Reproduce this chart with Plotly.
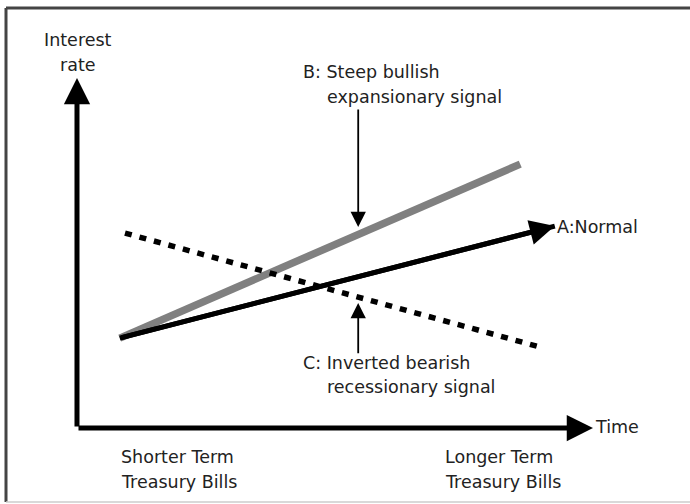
import plotly.graph_objects as go

# ---- data (schematic units: time 0-100, rate 0-100) ----
time_a = [8.3, 92.6]   # A: Normal
rate_a = [25.7, 57.7]
time_b = [8.3, 85.9]   # B: Steep
rate_b = [25.7, 75.4]
time_c = [9.3, 90.3]   # C: Inverted
rate_c = [55.7, 22.9]

axis_end_time = 100
axis_end_rate = 100

pointer_b = {"x": 54.5, "tail": 91.4, "tip": 57.4}
pointer_c = {"x": 54.5, "tail": 20.9, "tip": 35.7}

labels = [
    # text, x, y, xanchor
    ("Interest", 0.2, 110.9, "center"),
    ("rate", 0.2, 103.7, "center"),
    ("B: Steep bullish", 43.4, 101.7, "left"),
    ("expansionary signal", 48.0, 94.6, "left"),
    ("C: Inverted bearish", 43.4, 18.6, "left"),
    ("recessionary signal", 48.0, 11.7, "left"),
    ("A:Normal", 92.7, 57.4, "left"),
    ("Time", 100.0, 0.3, "left"),
    ("Shorter Term", 8.1, -8.3, "left"),
    ("Treasury Bills", 8.1, -15.4, "left"),
    ("Longer Term", 70.9, -8.3, "left"),
    ("Treasury Bills", 70.9, -15.4, "left"),
]

x_range = [-14.92, 118.8]
y_range = [-21.71, 122.29]

FONT = dict(family="DejaVu Sans", size=17.5, color="#222222")

fig = go.Figure()

fig.add_trace(go.Scatter(x=time_b, y=rate_b, mode="lines",
                         line=dict(color="#808080", width=7.5), hoverinfo="skip"))
fig.add_trace(go.Scatter(x=time_c, y=rate_c, mode="lines",
                         line=dict(color="black", width=5.5, dash="7px,8px"), hoverinfo="skip"))
fig.add_trace(go.Scatter(x=time_a, y=rate_a, mode="lines",
                         line=dict(color="black", width=5), hoverinfo="skip"))

annotations = []

def arrow(x, y, ax, ay, width, size, head=2):
    annotations.append(dict(x=x, y=y, ax=ax, ay=ay, xref="x", yref="y",
                            axref="x", ayref="y", text="", showarrow=True,
                            arrowhead=head, arrowsize=size, arrowwidth=width,
                            arrowcolor="black", standoff=0, startstandoff=0))

# axes
arrow(0, axis_end_rate, 0, 0, 5, 1.05)
arrow(axis_end_time, 0, 0, 0, 5, 1.05)
# A arrowhead
arrow(time_a[1], rate_a[1], time_a[0], rate_a[0], 5, 1.0)
# pointers
arrow(pointer_b["x"], pointer_b["tip"], pointer_b["x"], pointer_b["tail"], 1.8, 1.7)
arrow(pointer_c["x"], pointer_c["tip"], pointer_c["x"], pointer_c["tail"], 1.8, 1.7)

for text, x, y, xa in labels:
    annotations.append(dict(x=x, y=y, xref="x", yref="y", text=text,
                            showarrow=False, xanchor=xa, yanchor="middle",
                            font=FONT))

shapes = [
    dict(type="line", xref="paper", yref="paper", x0=6/690, x1=1, y0=1-8/504, y1=1-8/504,
         line=dict(color="#444444", width=3)),
    dict(type="line", xref="paper", yref="paper", x0=6/690, x1=6/690, y0=1-8/504, y1=1-502/504,
         line=dict(color="#444444", width=3)),
    dict(type="line", xref="paper", yref="paper", x0=6/690, x1=1, y0=1-502/504, y1=1-502/504,
         line=dict(color="#cccccc", width=1.5)),
]

fig.update_layout(
    width=690, height=504,
    margin=dict(l=0, r=0, t=0, b=0),
    paper_bgcolor="white", plot_bgcolor="white",
    showlegend=False,
    xaxis=dict(range=x_range, visible=False, fixedrange=True),
    yaxis=dict(range=y_range, visible=False, fixedrange=True),
    annotations=annotations,
    shapes=shapes,
)

fig.write_html("out.html", post_script="document.body.style.margin='0';",
               config={"displayModeBar": False})
